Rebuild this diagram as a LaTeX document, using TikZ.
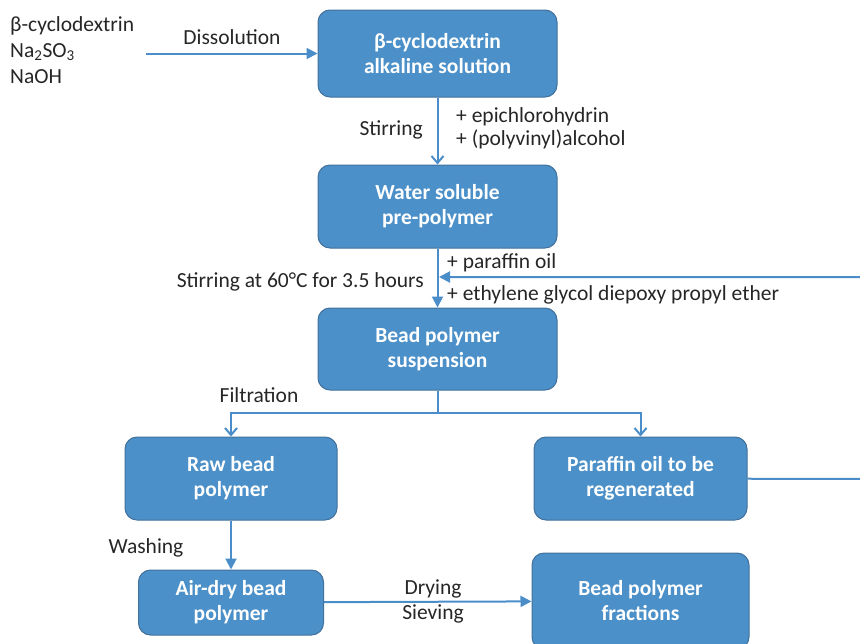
\documentclass[tikz,border=0pt]{standalone}
\usepackage{fontspec}
\setmainfont{Carlito}
\usetikzlibrary{
  arrows.meta,
  positioning
}
\definecolor{boxblue}{RGB}{75,144,200}
\definecolor{boxedge}{RGB}{65,113,156}
\definecolor{lineblue}{RGB}{74,141,201}
\definecolor{labelgray}{RGB}{38,38,38}
\tikzset{
%
  % For the process boxes.
  box/.style={
    draw=boxedge,
    line width=1pt,
    fill=boxblue,
    rounded corners=12pt,
    text=white,
    font=\fontsize{21.5}{25}\selectfont\bfseries,
    align=center,
    inner sep=0pt},
%
  % For plain connecting lines.
  pipe/.style={
    draw=lineblue,
    line width=2pt},
%
  % For a step with an open head.
  flow/.style={
    pipe,
    -{Straight Barb[length=7pt,
                    width=12pt]}},
%
  % For a step with a filled head.
  feed/.style={
    pipe,
    -{Triangle[length=11pt,
               width=11pt]}},
%
  % For the texts beside the lines.
  note/.style={
    text=labelgray,
    inner sep=0pt}
}

\begin{document}
\begin{tikzpicture}[x=1pt, y=-1pt,
                    font=\fontsize{21.5}{25}\selectfont]
  \clip (0,0) rectangle (860,643);

  \node[box, minimum width=239pt, minimum height=87pt] (sol)
    at (437.5,53.5) {β-cyclodextrin\\alkaline solution};
  \node[box, minimum width=239pt, minimum height=83pt] (pre)
    [below=67pt of sol] {Water soluble\\pre-polymer};
  \node[box, minimum width=239pt, minimum height=82pt] (susp)
    [below=59pt of pre] {Bead polymer\\suspension};
  \node[box, minimum width=212pt, minimum height=83pt] (raw)
    at (231,478.5) {Raw bead\\polymer};
  \node[box, minimum width=213pt, minimum height=83pt] (oil)
    at (640.5,478.5) {Paraffin oil to be\\regenerated};
  \node[box, minimum width=185pt, minimum height=65pt] (air)
    [below=49pt of raw] {Air-dry bead\\polymer};
  \node[box, minimum width=217pt, minimum height=96pt] (frac)
    at (640.5,601) {Bead polymer\\fractions};

  \node[note, anchor=west, align=left,
        font=\fontsize{21.5}{26}\selectfont] (reag)
    at (10,50) {β-cyclodextrin\\Na\textsubscript{2}SO\textsubscript{3}\\NaOH};
  \coordinate (src) at (146,53.5);
  \coordinate (split) at (437.5,413);
  \coordinate (out) at (868,479);
  \coordinate (back) at (868,277);
  \coordinate (join) at (439,277);

  \draw[feed] (src) -- (sol);
  \draw[flow] (sol) -- (pre);
  \draw[feed] (pre) -- (susp);
  \draw[pipe] (susp) -- (split);
  \draw[flow] (split) -| (raw);
  \draw[flow] (split) -| (oil);
  \draw[feed] (raw) -- (air);
  \draw[feed] (air) -- (frac);
  \draw[feed] (oil) -- (out) -- (back) -- (join);

  \node[note] (diss) at (232,37) {Dissolution};
  \node[note, anchor=east] (stir) at (423,130) {Stirring};
  \node[note, anchor=west, align=left,
        font=\fontsize{21.5}{23}\selectfont] (epi)
    at (456,128) {+ epichlorohydrin\\+ (polyvinyl)alcohol};
  \node[note, anchor=west] (par) at (447,263) {+ paraffin oil};
  \node[note, anchor=west] (ethy) at (447,295)
    {+ ethylene glycol diepoxy propyl ether};
  \node[note, anchor=east] (heat) at (424,282)
    {Stirring at 60°C for 3.5 hours};
  \node[note] (filt) at (259,395) {Filtration};
  \node[note] (wash) at (146,548) {Washing};
  \node[note] (dry) at (433,589) {Drying};
  \node[note] (siev) at (433,614) {Sieving};
\end{tikzpicture}
\end{document}
